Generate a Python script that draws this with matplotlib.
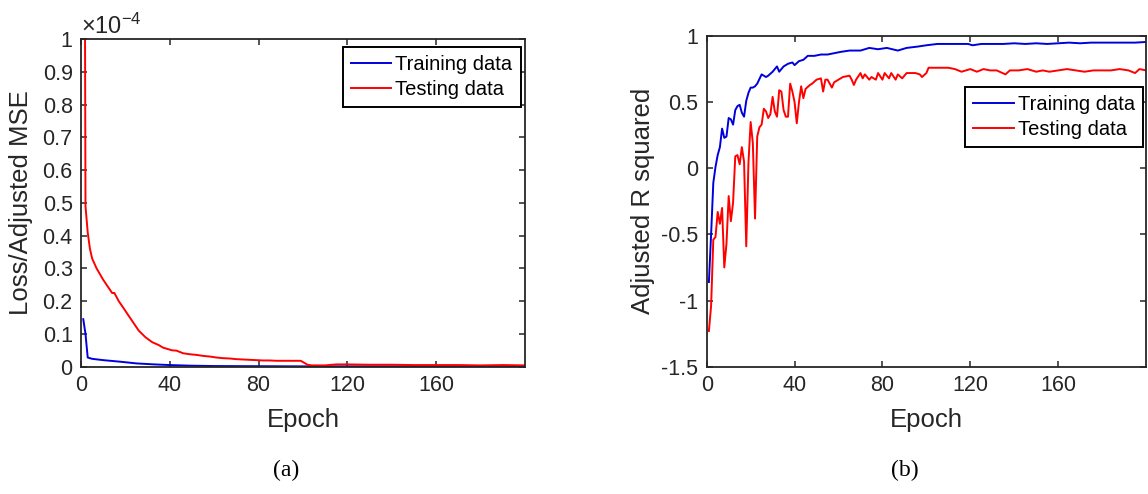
import matplotlib
matplotlib.use("Agg")
import matplotlib.pyplot as plt
from matplotlib.ticker import FuncFormatter

plt.rcParams['font.family'] = ['Liberation Sans', 'DejaVu Sans']
plt.rcParams['mathtext.fontset'] = 'custom'
plt.rcParams['mathtext.rm'] = 'Liberation Sans'

# (a) loss, values in units of 1e-4
loss_train_epoch = [1, 2, 3, 5, 10, 18, 25, 33, 40, 50, 60, 80, 100, 120, 150, 200]
loss_train = [0.145, 0.10, 0.028, 0.024, 0.020, 0.015, 0.010, 0.007, 0.005,
              0.003, 0.002, 0.0015, 0.001, 0.001, 0.001, 0.001]

loss_test_epoch = [1, 2, 3, 4, 5, 7, 10, 13, 14, 15, 17, 20, 23, 26, 29, 32,
                   35, 37, 39, 41, 43, 46, 49, 52, 55, 58, 61, 64, 67, 70,
                   73, 76, 79, 82, 85, 88, 91, 94, 97, 99, 100, 102, 104,
                   110, 115, 120, 130, 140, 150, 160, 170, 180, 190, 200]
loss_test = [3.0, 0.49, 0.41, 0.36, 0.33, 0.30, 0.265, 0.235, 0.225, 0.225,
             0.20, 0.17, 0.14, 0.11, 0.09, 0.075, 0.066, 0.058, 0.054, 0.05,
             0.049, 0.041, 0.038, 0.036, 0.033, 0.031, 0.028, 0.026, 0.025,
             0.023, 0.022, 0.021, 0.020, 0.019, 0.019, 0.018, 0.018, 0.018,
             0.018, 0.018, 0.014, 0.006, 0.004, 0.004, 0.007, 0.007, 0.006,
             0.006, 0.005, 0.005, 0.005, 0.004, 0.005, 0.004]

# (b) adjusted R squared
r2_train_epoch = [1, 2, 3, 4, 5, 6, 7, 8, 9, 10, 11, 12, 13, 14, 15, 16, 17,
                  18, 19, 20, 21, 22, 23, 25, 27, 28, 30, 32, 33, 35, 37, 39,
                  40, 42, 44, 46, 49, 52, 55, 58, 61, 65, 70, 74, 78, 82, 87,
                  91, 96, 100, 105, 110, 114, 119, 121, 125, 130, 135, 140,
                  145, 150, 155, 160, 165, 170, 175, 180, 185, 190, 195, 200]
r2_train = [-0.86, -0.50, -0.11, 0.01, 0.10, 0.16, 0.30, 0.23, 0.24, 0.38,
            0.37, 0.33, 0.44, 0.47, 0.48, 0.42, 0.39, 0.51, 0.57, 0.61,
            0.61, 0.62, 0.64, 0.71, 0.69, 0.70, 0.73, 0.77, 0.73, 0.77,
            0.79, 0.80, 0.78, 0.81, 0.82, 0.85, 0.85, 0.86, 0.86, 0.87,
            0.88, 0.89, 0.89, 0.91, 0.90, 0.91, 0.89, 0.91, 0.92, 0.93,
            0.94, 0.94, 0.94, 0.94, 0.93, 0.94, 0.94, 0.94, 0.945, 0.94,
            0.945, 0.94, 0.945, 0.95, 0.945, 0.95, 0.95, 0.95, 0.95, 0.95,
            0.955]

r2_test_epoch = [1, 2, 3, 4, 5, 6, 7, 8, 9, 10, 11, 12, 13, 14, 15, 16, 17,
                 18, 19, 20, 21, 22, 23, 24, 25, 26, 27, 28, 29, 30, 31, 32,
                 33, 34, 35, 36, 37, 38, 39, 40, 41, 42, 43, 44, 45, 47, 48,
                 50, 52, 53, 54, 55, 57, 58, 60, 62, 65, 66, 67, 68, 70, 71,
                 72, 74, 75, 77, 78, 80, 81, 83, 84, 86, 87, 89, 91, 93, 95,
                 97, 98, 100, 101, 105, 110, 113, 116, 118, 120, 123, 126,
                 129, 132, 136, 138, 142, 146, 150, 153, 156, 160, 164, 168,
                 172, 176, 180, 184, 188, 192, 195, 197, 200]
r2_test = [-1.23, -1.04, -0.54, -0.52, -0.33, -0.42, -0.30, -0.75, -0.57,
           -0.21, -0.40, -0.26, 0.09, 0.10, 0.03, 0.16, 0.05, -0.59, 0.04,
           0.35, 0.19, -0.38, 0.24, 0.31, 0.33, 0.45, 0.43, 0.38, 0.41,
           0.54, 0.43, 0.39, 0.59, 0.58, 0.44, 0.39, 0.39, 0.64, 0.58,
           0.50, 0.34, 0.50, 0.62, 0.53, 0.60, 0.63, 0.64, 0.67, 0.68,
           0.58, 0.67, 0.67, 0.61, 0.65, 0.67, 0.69, 0.70, 0.67, 0.63,
           0.67, 0.72, 0.68, 0.71, 0.67, 0.69, 0.67, 0.72, 0.67, 0.72,
           0.68, 0.72, 0.67, 0.71, 0.68, 0.72, 0.72, 0.72, 0.71, 0.69,
           0.72, 0.76, 0.76, 0.76, 0.75, 0.73, 0.74, 0.75, 0.73, 0.75,
           0.74, 0.74, 0.71, 0.74, 0.74, 0.75, 0.73, 0.74, 0.73, 0.74,
           0.75, 0.74, 0.73, 0.74, 0.74, 0.74, 0.75, 0.74, 0.72, 0.75,
           0.74]

loss_yticks = [0, 0.1, 0.2, 0.3, 0.4, 0.5, 0.6, 0.7, 0.8, 0.9, 1]
r2_yticks = [-1.5, -1, -0.5, 0, 0.5, 1]
xticks = [0, 40, 80, 120, 160]

dark = '#262626'
fmt = FuncFormatter(lambda v, p: '%g' % v)

fig = plt.figure(figsize=(11.48, 4.94), dpi=100)
ax1 = fig.add_axes([0.0706, 0.2577, 0.3867, 0.6633])
ax2 = fig.add_axes([0.6156, 0.2577, 0.3827, 0.6694])


def style(ax):
    for s in ax.spines.values():
        s.set_color(dark)
        s.set_linewidth(1.3)
    ax.tick_params(direction='in', top=True, right=True, length=4, width=1.1,
                   color=dark, labelcolor=dark, labelsize=15.5, pad=6)
    ax.set_xlim(0, 200)
    ax.set_xticks(xticks)
    ax.xaxis.set_major_formatter(fmt)
    ax.yaxis.set_major_formatter(fmt)
    ax.set_xlabel('Epoch', fontsize=18.5, color=dark)
    ax.xaxis.set_label_coords(0.5, -0.125)


def add_legend(ax, anchor):
    leg = ax.legend(loc='upper right', bbox_to_anchor=anchor, fontsize=14.5,
                    fancybox=False, framealpha=1, edgecolor='black',
                    borderaxespad=0, handlelength=2.0, handletextpad=0.2,
                    borderpad=0.4, labelspacing=0.3)
    leg.get_frame().set_linewidth(1.4)


ax1.plot(loss_train_epoch, loss_train, color='#0000dd', lw=1.4, label='Training data')
ax1.plot(loss_test_epoch, loss_test, color='#ff0000', lw=1.4, label='Testing data')
style(ax1)
ax1.set_ylim(0, 1)
ax1.set_yticks(loss_yticks)
ax1.set_ylabel('Loss/Adjusted MSE', fontsize=18.5, color=dark)
ax1.yaxis.set_label_coords(-0.108, 0.5)
ax1.text(0.0, 1.0, r'$\mathregular{\times10^{-4}}$', transform=ax1.transAxes,
         ha='left', va='bottom', fontsize=17, color=dark)
add_legend(ax1, (0.99, 0.975))

ax2.plot(r2_train_epoch, r2_train, color='#0000dd', lw=1.4, label='Training data')
ax2.plot(r2_test_epoch, r2_test, color='#ff0000', lw=1.4, label='Testing data')
style(ax2)
ax2.set_ylim(-1.5, 1)
ax2.set_yticks(r2_yticks)
ax2.set_ylabel('Adjusted R squared', fontsize=18.5, color=dark)
ax2.yaxis.set_label_coords(-0.118, 0.5)
add_legend(ax2, (0.993, 0.846))

fig.text(286 / 1148, 1 - 470 / 494, '(a)', family='Liberation Serif', fontsize=17,
         ha='center', va='center', color='black')
fig.text(905 / 1148, 1 - 470 / 494, '(b)', family='Liberation Serif', fontsize=17,
         ha='center', va='center', color='black')

fig.savefig('out.png', dpi=100)
